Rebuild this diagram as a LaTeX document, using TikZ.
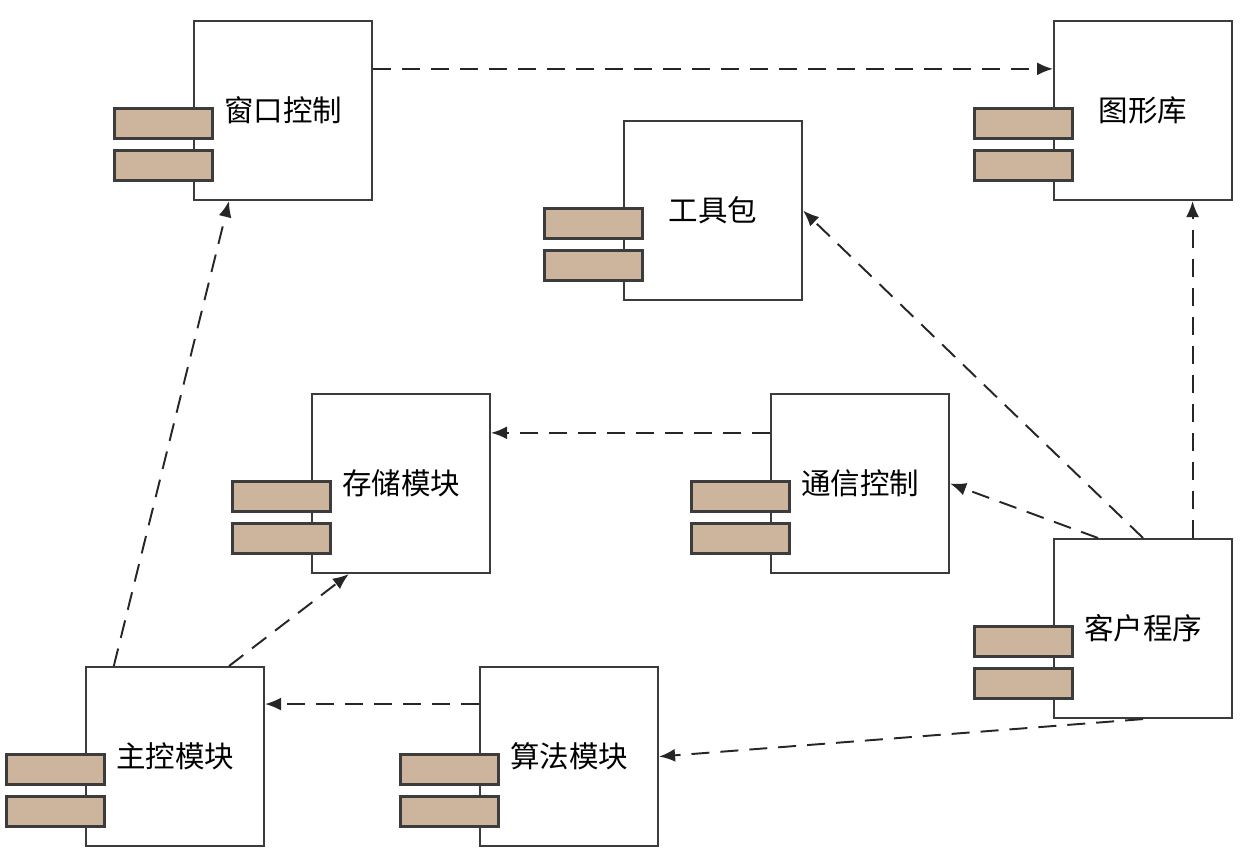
\documentclass[tikz,border=0pt]{standalone}
\usepackage{fontspec}
\setmainfont{Noto Sans CJK SC}
\usetikzlibrary{calc,arrows.meta}
\definecolor{tabfill}{RGB}{205,180,157}
\definecolor{edgecol}{RGB}{60,60,60}
\tikzset{
 box/.style={draw=edgecol, line width=1.2pt, fill=white, minimum width=3.56cm, minimum height=3.58cm, inner sep=0pt, font=\fontsize{16.8}{20}\selectfont},
 tabbox/.style={draw=edgecol, line width=1.2pt, fill=tabfill, minimum width=1.96cm, minimum height=0.6cm, inner sep=0pt},
 dep/.style={draw=black!85, line width=1.1pt, dash pattern=on 0.36cm off 0.22cm, -{Latex[length=0.32cm,width=0.26cm]}}
}
\newcommand\mycomp[4]{%
 \node[box, anchor=north west] (#1) at (#2,#3) {#4};
 \node[tabbox] (#1-a) at ($(#1.west)+(-29.5,13)$) {};
 \node[tabbox] (#1-b) at ($(#1.west)+(-29.5,55)$) {};
}
\begin{document}
\begin{tikzpicture}[x=0.02cm,y=-0.02cm]
\useasboundingbox (0,0) rectangle (1240,862);
\mycomp{ck}{193}{20}{窗口控制}
\mycomp{tx}{1053}{20}{图形库}
\mycomp{gj}{623}{120}{工具包}
\mycomp{cc}{311}{393}{存储模块}
\mycomp{tc}{770}{393}{通信控制}
\mycomp{kh}{1053}{538}{客户程序}
\mycomp{zk}{85}{666}{主控模块}
\mycomp{sf}{479}{666}{算法模块}
\draw[dep] ($(ck.north east)!0.27!(ck.south east)$) -- ($(tx.north west)!0.27!(tx.south west)$);
\draw[dep] ($(zk.north west)!0.16!(zk.north east)$) -- ($(ck.south west)!0.2!(ck.south east)$);
\draw[dep] ($(zk.north west)!0.8!(zk.north east)$) -- ($(cc.south west)!0.21!(cc.south east)$);
\draw[dep] ($(sf.north west)!0.21!(sf.south west)$) -- ($(zk.north east)!0.21!(zk.south east)$);
\draw[dep] (kh.south) -- (sf.east);
\draw[dep] ($(kh.north west)!0.25!(kh.north east)$) -- (tc.east);
\draw[dep] (kh.north) -- (gj.east);
\draw[dep] ($(kh.north west)!0.775!(kh.north east)$) -- ($(tx.south west)!0.775!(tx.south east)$);
\draw[dep] ($(tc.north west)!0.22!(tc.south west)$) -- ($(cc.north east)!0.22!(cc.south east)$);
\end{tikzpicture}
\end{document}
